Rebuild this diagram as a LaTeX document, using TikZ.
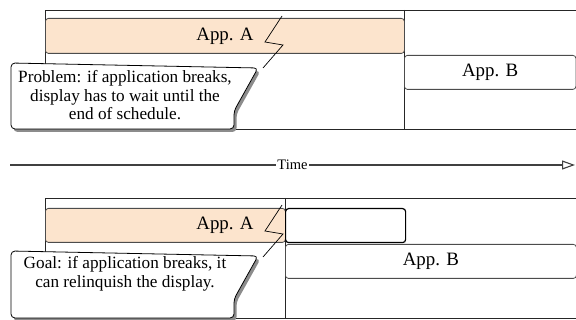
\documentclass[tikz,border=0pt]{standalone}
\usepackage{fontspec}
\setmainfont{Liberation Serif}
\usetikzlibrary{arrows.meta}

\definecolor{appfill}{RGB}{252,228,205}

\tikzset{
  frameline/.style={line width=0.8pt, black!85},
  appbox/.style={draw=black!70, line width=0.8pt, rounded corners=3pt, inner sep=0pt, anchor=north west},
  applabel/.style={font=\fontsize{18.9}{22}\selectfont},
  notetext/.style={font=\fontsize{17.2}{18.5}\selectfont, align=center},
  timeline/.style={line width=1.1pt, black!75, -{Triangle[open, length=13pt, width=9pt]}},
  bolt/.style={line width=0.7pt},
}

\begin{document}
\begin{tikzpicture}[x=1pt, y=-1pt]
\useasboundingbox (0,0) rectangle (576,320);

% schedule with app A running to its end
\draw[frameline] (576,10) -- (45,10) -- (45,129) -- (576,129);
\draw[frameline] (404,10) -- (404,129);
\node[appbox, fill=appfill, minimum width=359pt, minimum height=35pt] (appA) at (45,18) {};
\node[appbox, minimum width=171.5pt, minimum height=34pt] (appB) at (404,55) {};
\node[applabel] (labA) at (225,36) {App. A};
\node[applabel] (labB) at (appB) {App. B};

% time axis
\coordinate (tstart) at (10,165);
\coordinate (tend) at (575,165);
\draw[timeline] (tstart) -- node[fill=white, inner sep=1.5pt, text=black, font=\fontsize{14.5}{17}\selectfont] (tlabel) {Time} (tend);

% schedule where app A gives the display back
\draw[frameline] (576,198) -- (45,198) -- (45,318) -- (576,318);
\draw[frameline] (285,198) -- (285,318);
\node[appbox, fill=appfill, minimum width=240pt, minimum height=34pt] (appA2) at (45,208) {};
\node[appbox, draw=black, line width=1.2pt, fill=white, minimum width=120pt, minimum height=34pt] (idle) at (285,208) {};
\node[appbox, minimum width=291pt, minimum height=34pt] (appB2) at (285,244) {};
\node[applabel] (labA2) at (225,225) {App. A};
\node[applabel] (labB2) at (appB2) {App. B};

% breaks
\foreach \dy in {0,189} {
  \draw[bolt] (282,16+\dy) -- (265,42+\dy) -- (283,45+\dy) -- (263,68+\dy);
}

% callouts
\foreach \top/\bot in {63/129, 251/318} {
  \fill[black!45, shift={(2.5,3)}, rounded corners=4pt]
    (11,\top) -- (258,\top+5) -- (234,\top+48) -- (234,\bot) -- (11,\bot) -- cycle;
  \draw[fill=white, line width=0.8pt, rounded corners=4pt]
    (11,\top) -- (258,\top+5) -- (234,\top+48) -- (234,\bot) -- (11,\bot) -- cycle;
}
\node[notetext] (problem) at (125,95.5) {Problem: if application breaks,\\display has to wait until the\\end of schedule.};
\node[notetext] (goal) at (125,274) {Goal: if application breaks, it\\can relinquish the display.};
\end{tikzpicture}
\end{document}
